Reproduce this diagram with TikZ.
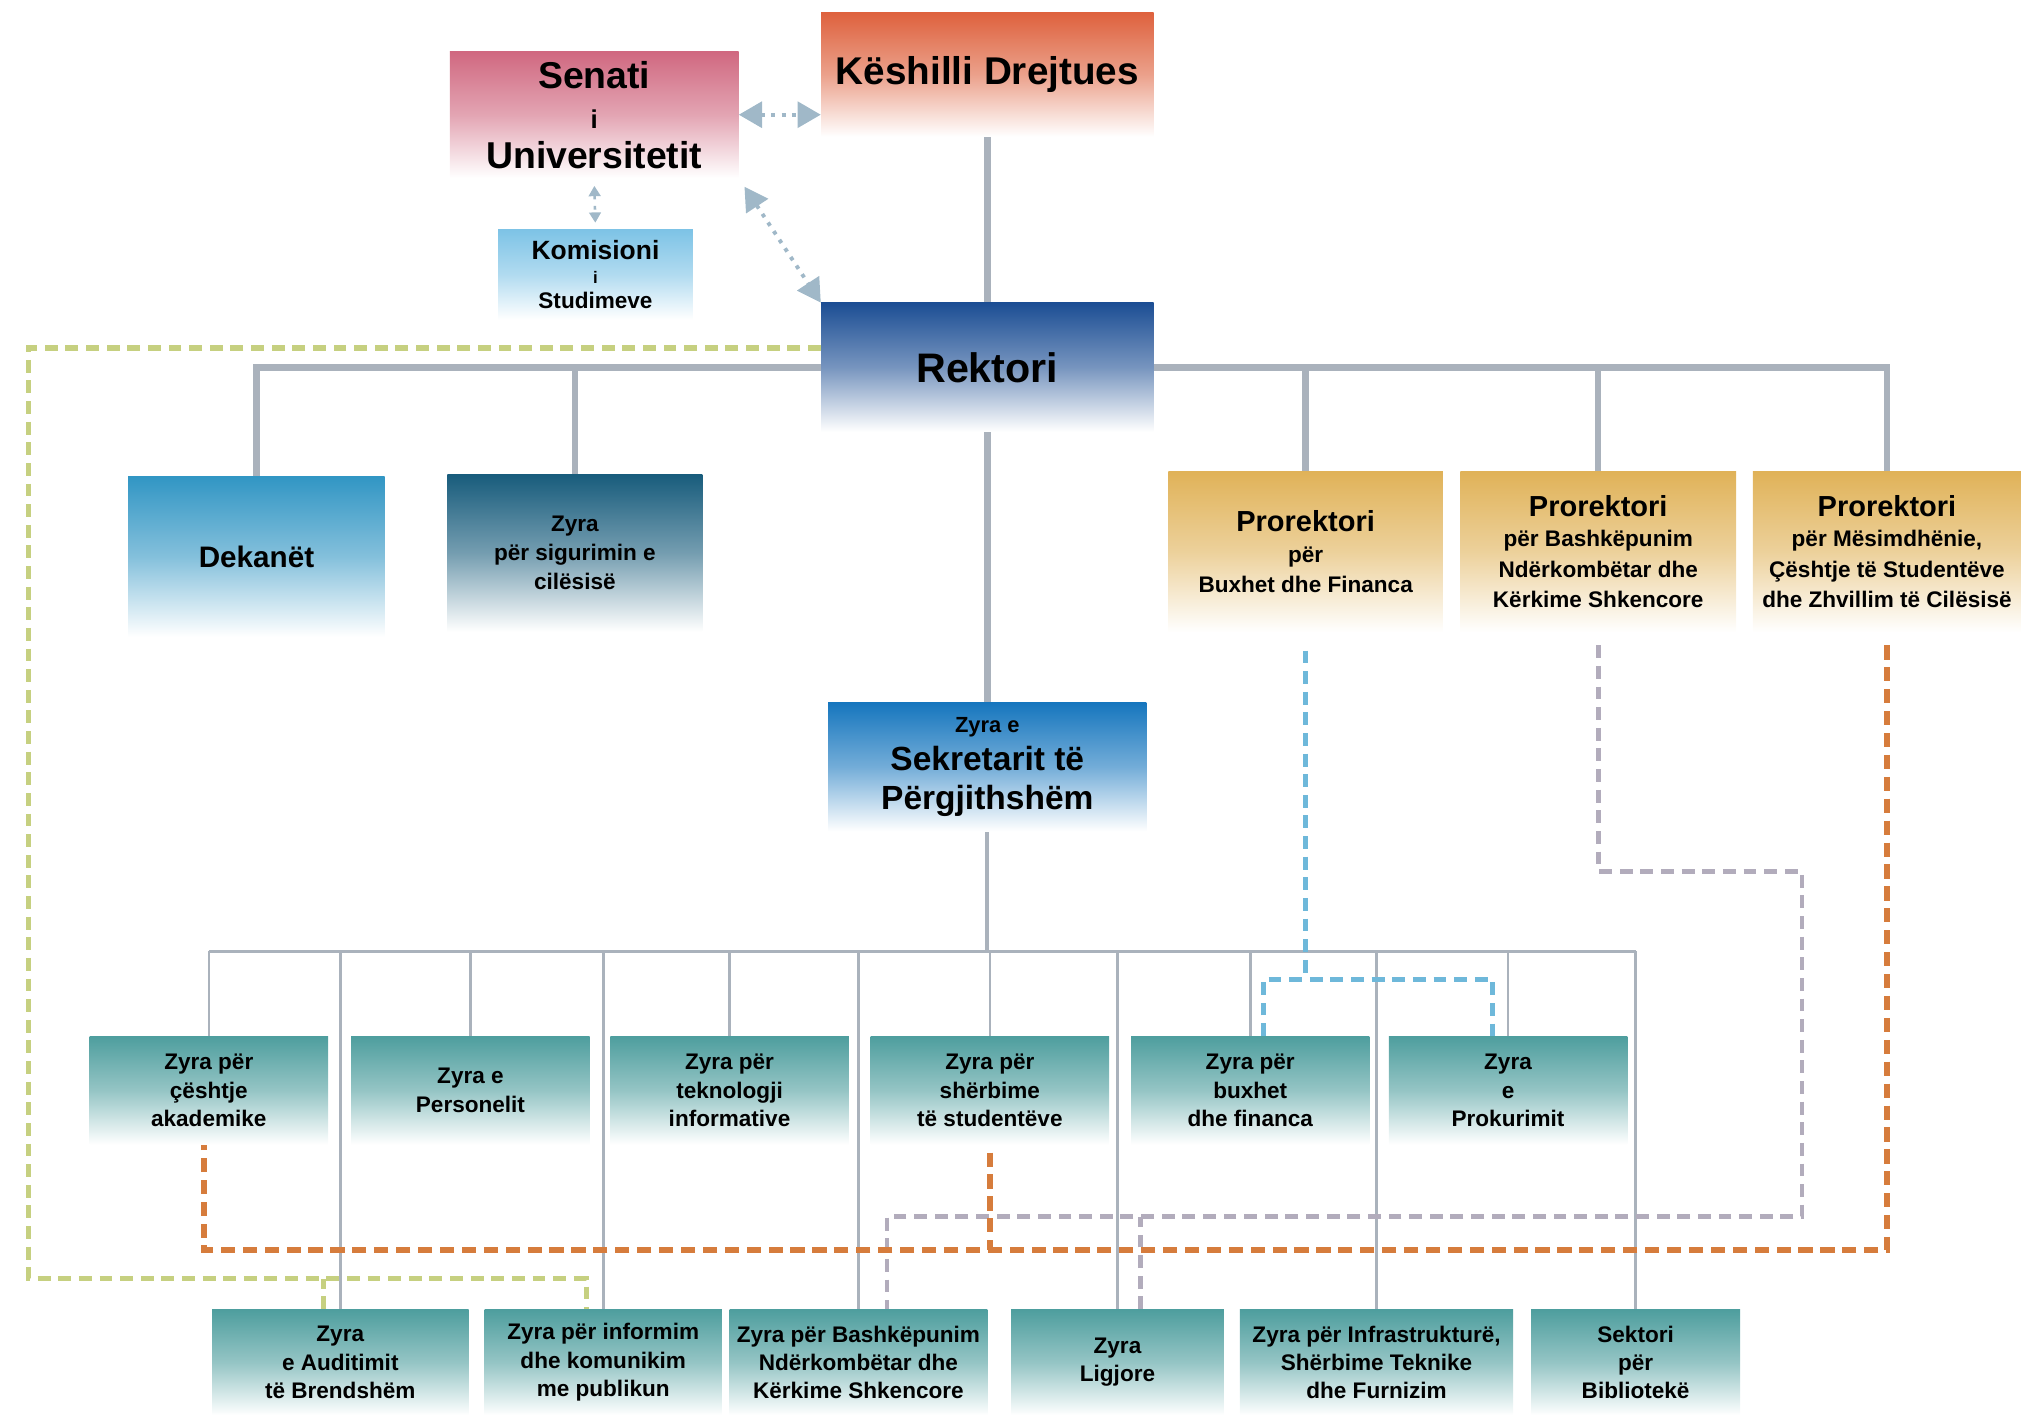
\documentclass[tikz,border=0pt]{standalone}
\usepackage{fontspec}
\setmainfont{Liberation Sans}
\usepackage{xcolor}
\definecolor{senat}{RGB}{208,104,128}
\definecolor{keshill}{RGB}{222,98,62}
\definecolor{komis}{RGB}{125,195,230}
\definecolor{rektor}{RGB}{28,78,148}
\definecolor{dekan}{RGB}{50,150,196}
\definecolor{cilesi}{RGB}{24,92,124}
\definecolor{prorek}{RGB}{224,178,88}
\definecolor{sekret}{RGB}{22,118,190}
\definecolor{zyra}{RGB}{78,158,158}
\definecolor{lineg}{RGB}{170,178,188}
\definecolor{dashg}{RGB}{198,208,128}
\definecolor{dashb}{RGB}{110,184,218}
\definecolor{dashp}{RGB}{178,172,188}
\definecolor{dasho}{RGB}{214,124,60}
\definecolor{arrowg}{RGB}{160,184,200}
\usepackage{tikz}
\usetikzlibrary{positioning,backgrounds,arrows.meta}

\begin{document}
\begin{tikzpicture}[x=1pt,y=-1pt,
    every node/.style={inner sep=0pt,align=center,text=black},
    fade/.style={top color=#1,bottom color=white,middle color=#1!60},
    unit/.style={fade=zyra,minimum width=185pt,minimum height=84pt,font=\fontsize{17.5}{22}\selectfont\bfseries},
    prorektor/.style={fade=prorek,minimum height=125pt,font=\fontsize{17.5}{23.5}\selectfont\bfseries},
    trunk/.style={draw=lineg,line width=5pt},
    branch/.style={draw=lineg,line width=2pt},
    dotarrow/.style={draw=arrowg,line width=3pt,dash pattern=on 3pt off 5pt,{Triangle[length=18pt,width=20pt]}-{Triangle[length=18pt,width=20pt]}},
    greenlink/.style={draw=dashg,line width=4pt,dash pattern=on 10pt off 6pt},
    bluelink/.style={draw=dashb,line width=4pt,dash pattern=on 10pt off 6pt},
    greylink/.style={draw=dashp,line width=3.5pt,dash pattern=on 10pt off 6pt},
    orangelink/.style={draw=dasho,line width=4.5pt,dash pattern=on 11pt off 6pt}]
    \useasboundingbox (0,0) rectangle (1568,1099);

    \node[fade=senat,minimum width=224pt,minimum height=98pt,font=\fontsize{29}{31}\selectfont\bfseries] (senati) at (461,89) {Senati\\{\fontsize{20}{31}\selectfont i}\\Universitetit};
    \node[fade=keshill,minimum width=258pt,minimum height=96pt,font=\fontsize{30}{32}\selectfont\bfseries] (keshilli) at (766,58) {Këshilli Drejtues};
    \node[fade=komis,minimum width=151pt,minimum height=70pt,font=\fontsize{17.5}{19}\selectfont\bfseries] (komisioni) at (462,213) {{\fontsize{20.5}{19}\selectfont Komisioni}\\{\fontsize{13}{19}\selectfont i}\\Studimeve};
    \node[fade=rektor,minimum width=258pt,minimum height=100pt,font=\fontsize{32}{34}\selectfont\bfseries] (rektori) at (766,285) {Rektori};

    \node[fade=dekan,minimum width=199pt,minimum height=124pt,font=\fontsize{23}{25}\selectfont\bfseries] (dekanet) at (199,432) {Dekanët};
    \node[fade=cilesi,minimum width=198pt,minimum height=122pt,font=\fontsize{17.5}{22.5}\selectfont\bfseries] (cilesi) at (446,429) {Zyra\\për sigurimin e\\cilësisë};
    \node[prorektor,minimum width=213pt] (p1) at (1013,428) {{\fontsize{22.5}{23.5}\selectfont Prorektori}\\për\\Buxhet dhe Financa};
    \node[prorektor,minimum width=214pt] (p2) at (1240,428) {{\fontsize{22.5}{23.5}\selectfont Prorektori}\\për Bashkëpunim\\Ndërkombëtar dhe\\Kërkime Shkencore};
    \node[prorektor,minimum width=208pt] (p3) at (1464,428) {{\fontsize{22.5}{23.5}\selectfont Prorektori}\\për Mësimdhënie,\\Çështje të Studentëve\\dhe Zhvillim të Cilësisë};

    \node[fade=sekret,minimum width=247pt,minimum height=100pt,font=\fontsize{26}{30}\selectfont\bfseries] (sekretari) at (766,595) {{\fontsize{17}{30}\selectfont Zyra e}\\Sekretarit të\\Përgjithshëm};

    \node[unit] (cesht) at (162,846) {Zyra për\\çështje\\akademike};
    \node[unit] (personel) at (365,846) {Zyra e\\Personelit};
    \node[unit] (tekno) at (566,846) {Zyra për\\teknologji\\informative};
    \node[unit] (sherb) at (768,846) {Zyra për\\shërbime\\të studentëve};
    \node[unit] (buxhet) at (970,846) {Zyra për\\buxhet\\dhe financa};
    \node[unit] (prokur) at (1170,846) {Zyra\\e\\Prokurimit};

    \node[unit,minimum width=199pt,minimum height=82pt] (audit) at (264,1057) {Zyra\\e Auditimit\\të Brendshëm};
    \node[unit,minimum width=184pt,minimum height=82pt] (informim) at (468,1057) {Zyra për informim\\dhe komunikim\\me publikun};
    \node[unit,minimum width=200pt,minimum height=82pt] (bashk) at (666,1057) {Zyra për Bashkëpunim\\Ndërkombëtar dhe\\Kërkime Shkencore};
    \node[unit,minimum width=165pt,minimum height=82pt] (ligjore) at (867,1057) {Zyra\\Ligjore};
    \node[unit,minimum width=212pt,minimum height=82pt] (infra) at (1068,1057) {Zyra për Infrastrukturë,\\Shërbime Teknike\\dhe Furnizim};
    \node[unit,minimum width=162pt,minimum height=82pt] (biblio) at (1269,1057) {Sektori\\për\\Bibliotekë};

    \coordinate (bus) at (766,738);

    \begin{scope}[on background layer]
        \draw[trunk] (keshilli.south) -- (rektori.north);
        \draw[trunk] (dekanet.north) |- (rektori.center) -| (p3.north);
        \draw[trunk] (cilesi.north) -- (cilesi.north |- rektori.center);
        \draw[trunk] (p1.north) -- (p1.north |- rektori.center);
        \draw[trunk] (p2.north) -- (p2.north |- rektori.center);
        \draw[trunk] (rektori.south) -- (sekretari.north);
        \draw[branch,line width=3pt] (sekretari.south) -- (bus);
        \draw[branch] (cesht.north |- bus) -- (biblio.north |- bus);
        \foreach \u in {cesht,personel,tekno,sherb,buxhet,prokur,audit,informim,bashk,ligjore,infra,biblio}
            \draw[branch] (\u.north) -- (\u.north |- bus);

        \draw[greenlink] ([yshift=15pt]rektori.west) -| (22,992) -| ([xshift=-13pt]informim.north);
        \draw[greenlink] ([xshift=-13pt]audit.north) -- ([xshift=-13pt]audit.north |- 0,992);
        \draw[bluelink,shorten <=14pt] (p1.south) -- (p1.south |- 0,760);
        \draw[bluelink] ([xshift=10pt]buxhet.north) |- ([xshift=-12pt]prokur.north |- 0,760) -- ([xshift=-12pt]prokur.north);
        \draw[greylink,shorten <=10pt] (p2.south) |- (1398,676) -- (1398,944) -| ([xshift=22pt]bashk.north);
        \draw[greylink] ([xshift=18pt]ligjore.north) -- ([xshift=18pt]ligjore.north |- 0,944);
        \draw[orangelink,shorten <=10pt] (p3.south) |- ([xshift=-4pt]cesht.south |- 0,970) -- ([xshift=-4pt]cesht.south);
        \draw[orangelink,shorten <=6pt] (sherb.south) -- (sherb.south |- 0,970);
    \end{scope}

    \draw[dotarrow] (senati.east) -- (senati.east -| keshilli.west);
    \draw[dotarrow,line width=2pt,{Triangle[length=8pt,width=9pt]}-{Triangle[length=8pt,width=9pt]},shorten <=6pt,shorten >=5pt] (senati.south) -- (komisioni.north);
    \draw[dotarrow,shorten <=8pt] (senati.south east) -- (rektori.north west);
\end{tikzpicture}
\end{document}
